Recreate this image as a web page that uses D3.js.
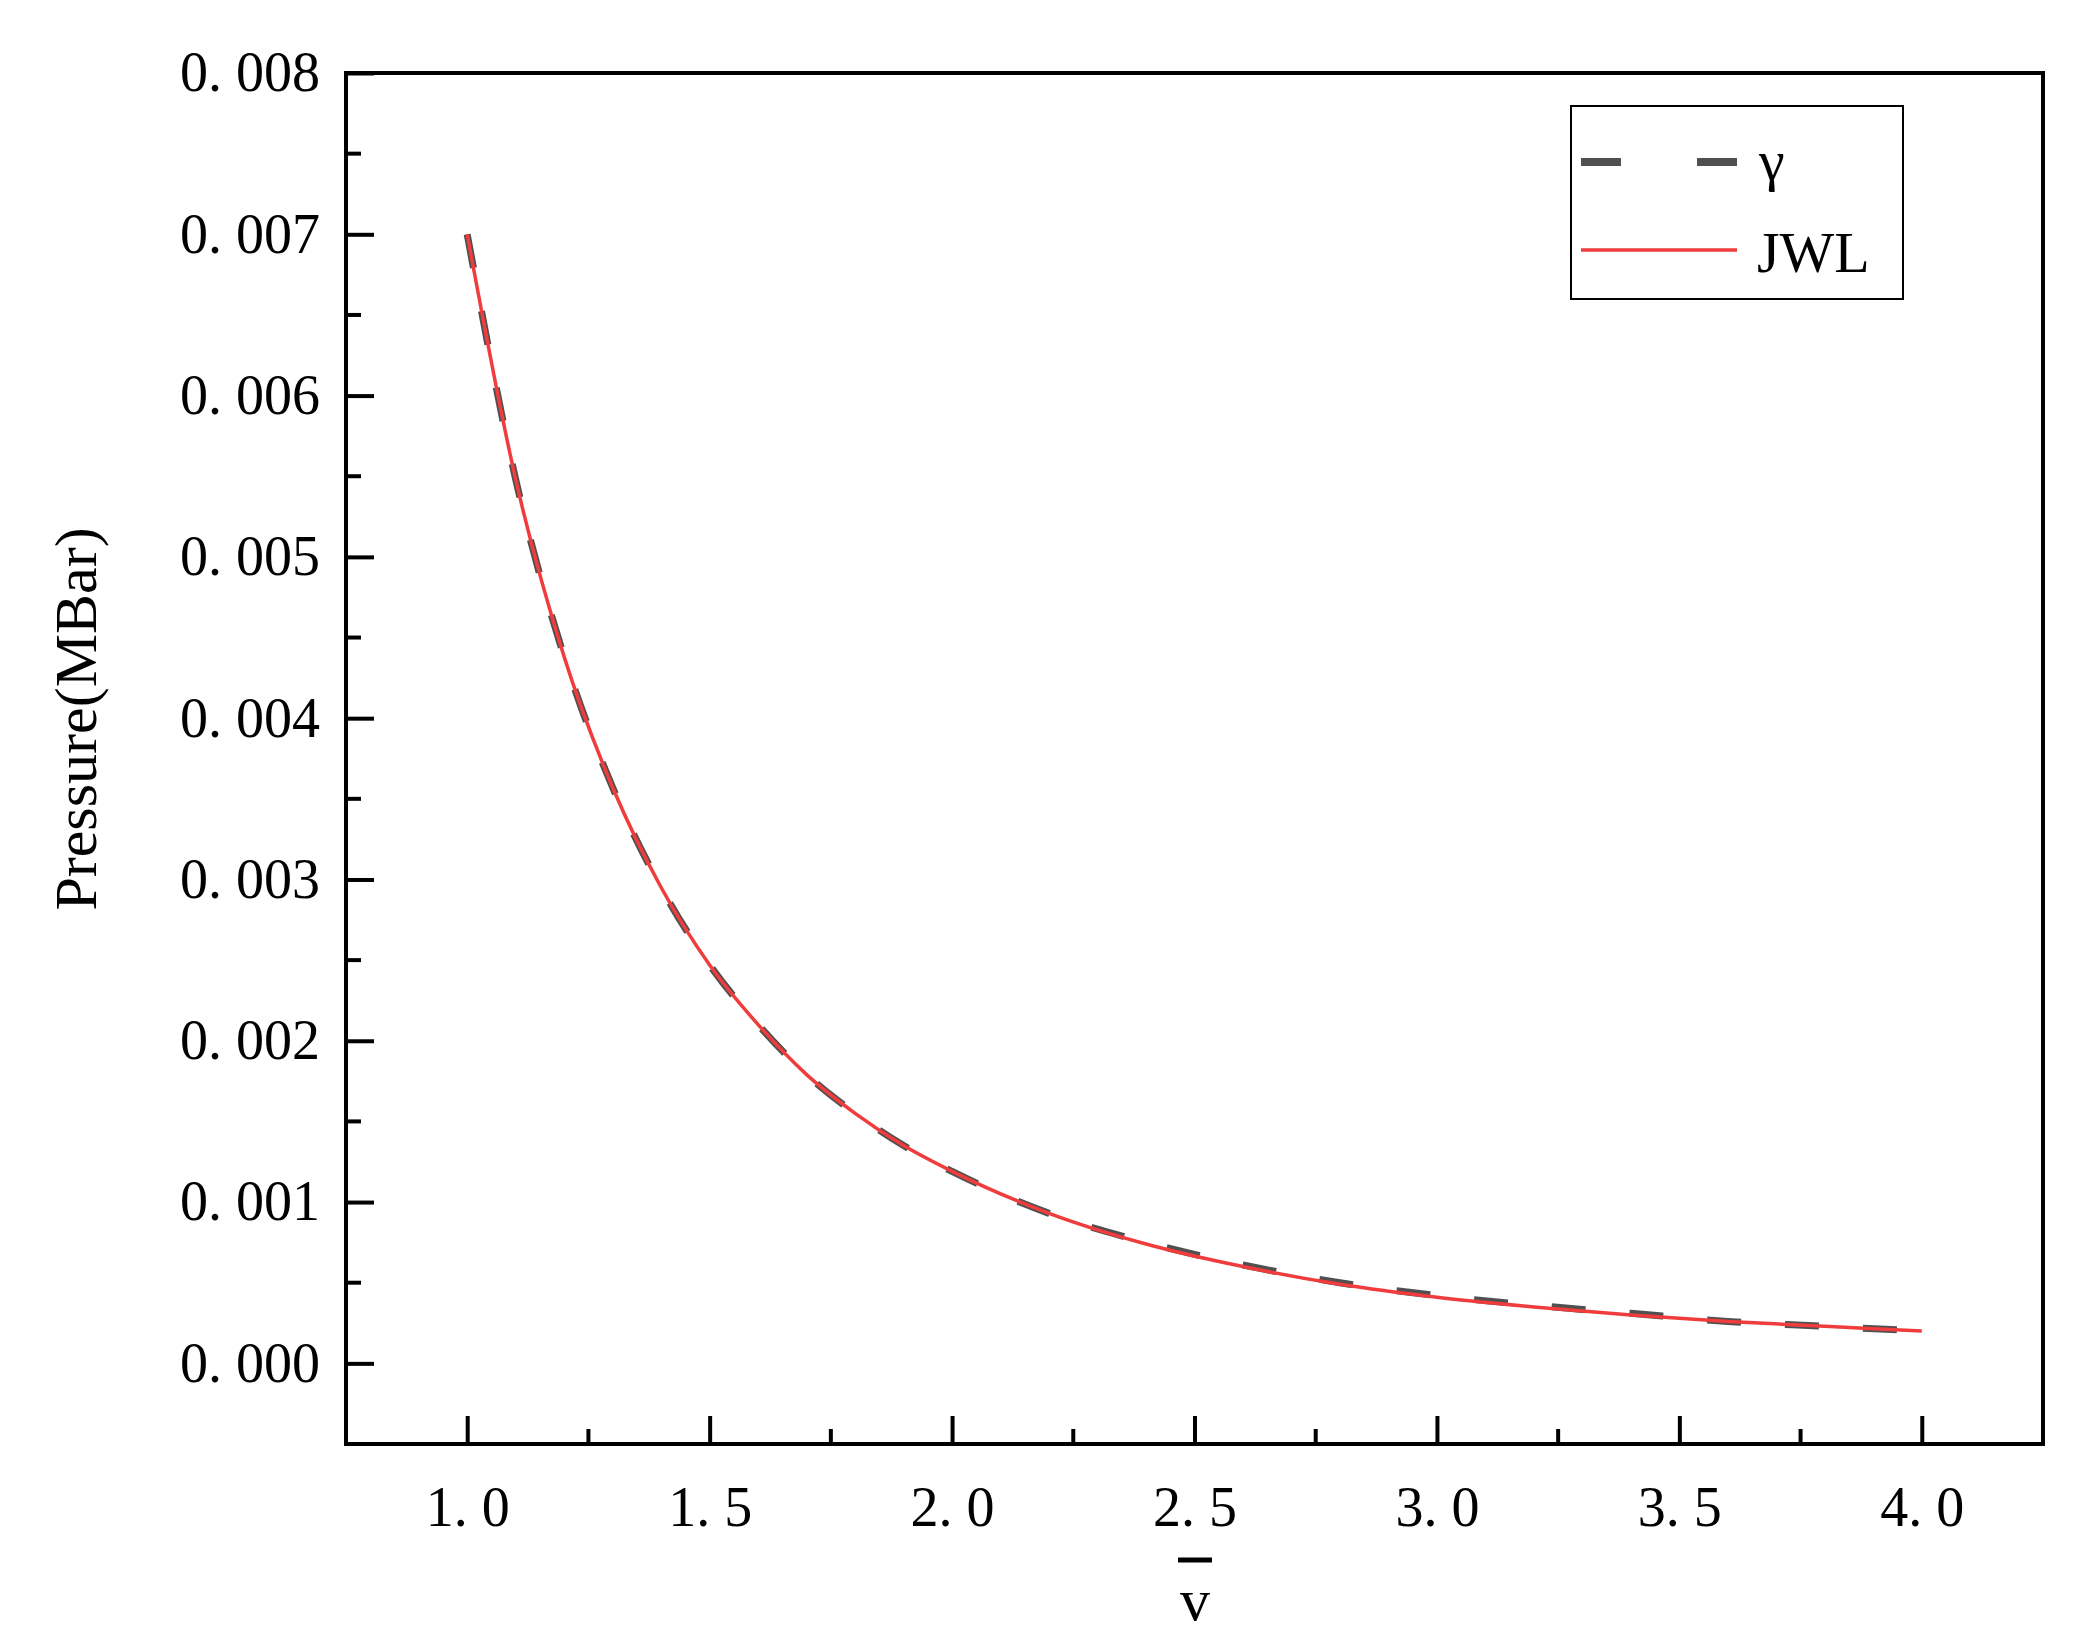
<!DOCTYPE html>
<html>
<head>
<meta charset="utf-8">
<script src="https://cdn.jsdelivr.net/npm/d3@7"></script>
<style>
  body { margin: 0; background: #fff; }
  text { font-family: "Liberation Serif", "DejaVu Serif", serif; fill: #000; }
</style>
</head>
<body>
<svg id="chart" width="2088" height="1652"></svg>
<script>
// values
const vBar = [1.0, 1.1, 1.2, 1.3, 1.4, 1.5, 1.6, 1.7, 1.8, 1.9, 2.0, 2.2, 2.4, 2.6, 2.8, 3.0, 3.2, 3.4, 3.6, 3.8, 4.0];
const gammaP = [0.0070, 0.00548, 0.00438, 0.00357, 0.00295, 0.00247, 0.00210, 0.00179, 0.00155, 0.00135, 0.00119,
    0.00093, 0.00075, 0.00061, 0.00050, 0.00042, 0.00036, 0.00031, 0.00026, 0.00023, 0.00020];
const jwlP = [0.0070, 0.00548, 0.00438, 0.00357, 0.00295, 0.00247, 0.00210, 0.00179, 0.00155, 0.00135, 0.00119,
    0.00093, 0.00074, 0.00060, 0.00049, 0.00041, 0.00035, 0.00030, 0.00026, 0.00023, 0.00020];
const xTicks = [1.0, 1.5, 2.0, 2.5, 3.0, 3.5, 4.0];
const yTicks = [0, 0.001, 0.002, 0.003, 0.004, 0.005, 0.006, 0.007, 0.008];

let margin = { top: 73, right: 45, bottom: 208, left: 346 },
    width = 2088 - margin.left - margin.right,
    height = 1652 - margin.top - margin.bottom;

let svg = d3.select("#chart")
    .append("g")
    .attr("transform", "translate(" + margin.left + "," + margin.top + ")");

let xScale = d3.scaleLinear().domain([0.75, 4.25]).range([0, width]);
let yScale = d3.scaleLinear().domain([-0.0005, 0.008]).range([height, 0]);

// minor ticks
let xMinor = d3.range(1.25, 4.0, 0.5);
let yMinor = d3.range(0.0005, 0.008, 0.001);
svg.selectAll(".xminor").data(xMinor).enter().append("line")
    .attr("x1", d => xScale(d)).attr("x2", d => xScale(d))
    .attr("y1", height).attr("y2", height - 15)
    .attr("stroke", "#000").attr("stroke-width", 4);
svg.selectAll(".yminor").data(yMinor).enter().append("line")
    .attr("x1", 0).attr("x2", 15)
    .attr("y1", d => yScale(d)).attr("y2", d => yScale(d))
    .attr("stroke", "#000").attr("stroke-width", 4);

// major axes, ticks inward
let xAxis = svg.append("g")
    .attr("transform", "translate(0," + height + ")")
    .call(d3.axisBottom(xScale).tickValues(xTicks).tickSizeInner(-28).tickSizeOuter(0)
        .tickPadding(42).tickFormat(d => d3.format(".1f")(d).replace(".", ". ")));
let yAxis = svg.append("g")
    .call(d3.axisLeft(yScale).tickValues(yTicks).tickSizeInner(-28).tickSizeOuter(0)
        .tickPadding(26).tickFormat(d => d3.format(".3f")(d).replace(".", ". ")));
[xAxis, yAxis].forEach(a => {
    a.selectAll(".domain").remove();
    a.selectAll("line").attr("stroke-width", 4);
    a.selectAll("text").attr("font-size", 56).style("font-family", "'Liberation Serif', serif");
});
yAxis.selectAll("text").attr("dy", "0.32em");

// frame
svg.append("rect")
    .attr("width", width).attr("height", height)
    .attr("fill", "none").attr("stroke", "#000").attr("stroke-width", 4);

// lines
let lineGenerator = (ys) => d3.line()
    .x((d, i) => xScale(vBar[i]))
    .y(d => yScale(d))
    .curve(d3.curveMonotoneX)(ys);

svg.append("path")
    .attr("d", lineGenerator(gammaP))
    .attr("fill", "none").attr("stroke", "#505050")
    .attr("stroke-width", 7).attr("stroke-dasharray", "34,44");
svg.append("path")
    .attr("d", lineGenerator(jwlP))
    .attr("fill", "none").attr("stroke", "#f03c3c")
    .attr("stroke-width", 3.5);

// legend
let legend = svg.append("g").attr("transform", "translate(" + (1571 - margin.left) + "," + (106 - margin.top) + ")");
legend.append("rect").attr("width", 332).attr("height", 193)
    .attr("fill", "#fff").attr("stroke", "#000").attr("stroke-width", 2);
legend.append("line").attr("x1", 10).attr("x2", 166).attr("y1", 56).attr("y2", 56)
    .attr("stroke", "#505050").attr("stroke-width", 8).attr("stroke-dasharray", "40,76");
legend.append("line").attr("x1", 10).attr("x2", 166).attr("y1", 144).attr("y2", 144)
    .attr("stroke", "#f03c3c").attr("stroke-width", 3.5);
legend.append("text").attr("x", 188).attr("y", 74).attr("font-size", 58).text("γ");
legend.append("text").attr("x", 186).attr("y", 166).attr("font-size", 58).text("JWL");

// axis titles
svg.append("text")
    .attr("text-anchor", "middle")
    .attr("transform", "rotate(-90)")
    .attr("x", -(719 - margin.top))
    .attr("y", 96 - margin.left)
    .attr("font-size", 60)
    .text("Pressure(MBar)");
svg.append("text")
    .attr("text-anchor", "middle")
    .attr("x", 1195 - margin.left)
    .attr("y", 1620 - margin.top)
    .attr("font-size", 60)
    .text("v");
svg.append("line")
    .attr("x1", 1178 - margin.left).attr("x2", 1212 - margin.left)
    .attr("y1", 1560 - margin.top).attr("y2", 1560 - margin.top)
    .attr("stroke", "#000").attr("stroke-width", 5);
</script>
</body>
</html>
